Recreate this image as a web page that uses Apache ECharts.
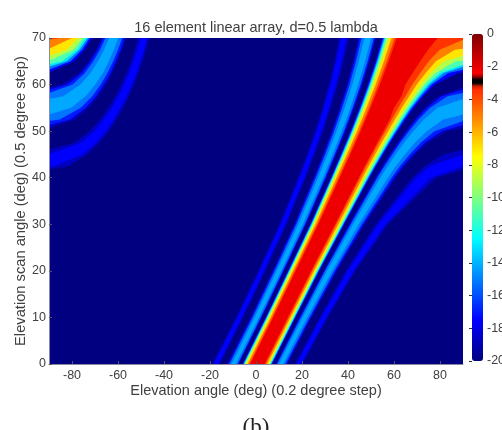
<!DOCTYPE html>
<html><head><meta charset="utf-8">
<style>html,body{margin:0;padding:0;background:#fff}#c{width:502px;height:430px;filter:blur(0.55px)}</style>
<script src="https://cdn.jsdelivr.net/npm/echarts@6/dist/echarts.min.js"></script>
</head><body><div id="c"></div>
<script>
// Contour edges: elevation angle (deg) of each of 21 contour lines at each scan row.
const scanRows = [0,10,20,30,40,42.5,45,47.5,50,52.5,55,57.5,60,62.5,65,67.5,70];
const beamDrift = [0.6,0.6,0.6,0.7,0.4,0.35,0.3,0.25,0.2,0.1,0,-0.1,-0.3,-0.4,-0.6,-0.8,-1];
const plus0  = [3.15,3.6,4.3,4.9,5.3,5.7,5.9,6.2,6.5,8,8.3,8.6,9.35,11.2,12.1,12.7,13.1,16.3,17,19,19.6];
const plus10 = [13.2,13.7,14.4,15,15.5,15.8,16.1,16.35,16.65,18.2,18.5,18.9,19.7,21.65,22.6,23.15,23.6,27.05,27.85,29.95,30.6];
const plus20 = [23.4,23.9,24.65,25.3,25.8,26.15,26.4,26.7,27.05,28.75,29.1,29.45,30.3,32.5,33.5,34.15,34.6,38.55,39.4,41.85,42.6];
const plus30 = [33.7,34.25,35.1,35.8,36.4,36.8,37.1,37.4,37.75,39.7,40.1,40.55,41.5,44,45.25,46,46.55,51.35,52.45,55.6,56.6];
const plus40 = [44.3,44.9,45.9,46.7,47.4,47.9,48.25,48.65,49.05,51.45,51.9,52.45,53.65,56.95,58.55,59.6,60.35,67.5,69.4,75.5,78];
const plus42 = [46.95,47.6,48.65,49.5,50.2,50.8,51.15,51.6,52,54.55,55.05,55.6,56.95,60.5,62.3,63.5,64.4,73.1,75.6,90,90];
const plus45 = [49.65,50.35,51.45,52.35,53.15,53.7,54.1,54.55,55.05,57.8,58.3,59,60.4,64.4,66.5,67.9,68.9,81.1,90,90,90];
const plus47 = [52.4,53.15,54.3,55.3,56.1,56.75,57.2,57.65,58.2,61.2,61.8,62.5,64.1,68.8,71.3,73.1,74.4,90,90,90,90];
const plus50 = [55.2,56,57.25,58.3,59.2,59.9,60.35,60.9,61.45,64.85,65.5,66.35,68.2,74,77.4,80.4,82.75,90,90,90,90];
const plus52 = [58,58.9,60.3,61.45,62.4,63.2,63.7,64.3,65,68.8,69.6,70.6,72.9,81.3,90,90,90,90,90,90,90];
const plus55 = [60,61.9,63.4,64.7,65.8,66.65,67.2,67.9,68.7,73.3,74.4,75.7,78.95,90,90,90,90,90,90,90,90];
const plus57 = [63.3,65,66.7,68.2,69.5,70.5,71.2,72,72.9,79.2,80.9,83.4,90,90,90,90,90,90,90,90,90];
const plus60 = [65.3,68.3,70.2,72,73.5,74.8,75.7,76.8,78.1,90,90,90,90,90,90,90,90,90,90,90,90];
const plus62 = [68.5,71.8,74.2,76.4,78.5,80.4,81.9,84,88.2,90,90,90,90,90,90,90,90,90,90,90,90];
const plus65 = [72,75.7,78.8,82.3,87.4,90,90,90,90,90,90,90,90,90,90,90,90,90,90,90,90];
const plus67 = [75.6,80.7,87.3,90,90,90,90,90,90,90,90,90,90,90,90,90,90,90,90,90,90];
const plus70 = [80,90,90,90,90,90,90,90,90,90,90,90,90,90,90,90,90,90,90,90,90];
const minusScans = [0,10,20,30,40,45,50,55,60,65,70];
const minus0  = [-3.15,-3.6,-4.3,-4.9,-5.3,-5.7,-5.9,-6.2,-6.5,-8,-8.3,-8.6,-9.35,-11.2,-12.1,-12.7,-13.1,-16.3,-17,-19,-19.6];
const minus10 = [6.85,6.4,5.7,5.1,4.65,4.3,4.05,3.8,3.5,2,1.7,1.4,0.65,-1.2,-2.05,-2.6,-3,-6.15,-6.85,-8.7,-9.25];
const minus20 = [16.7,16.2,15.5,14.9,14.4,14.05,13.85,13.55,13.25,11.7,11.4,11.05,10.35,8.45,7.6,7.05,6.65,3.5,2.8,1,0.4];
const minus30 = [26.4,25.9,25.15,24.5,24,23.65,23.4,23.1,22.8,21.15,20.85,20.5,19.7,17.75,16.85,16.3,15.9,12.65,11.95,10.1,9.5];
const minus40 = [36,35.45,34.6,33.9,33.35,32.95,32.7,32.4,32.05,30.25,29.95,29.55,28.7,26.6,25.65,25.05,24.65,21.2,20.5,18.55,17.95];
const minus45 = [40.7,40.1,39.2,38.45,37.9,37.45,37.15,36.85,36.5,34.6,34.25,33.85,33,30.8,29.8,29.15,28.75,25.2,24.45,22.45,21.85];
const minus50 = [45.3,44.65,43.7,42.9,42.3,41.85,41.55,41.2,40.8,38.85,38.45,38,37.1,34.8,33.8,33.1,32.7,29,28.25,26.15,25.55];
const minus55 = [49.8,49.1,48.05,47.2,46.55,46.05,45.75,45.35,44.95,42.85,42.45,42,41.05,38.6,37.5,36.85,36.35,32.55,31.75,29.6,28.95];
const minus60 = [54.2,53.4,52.3,51.35,50.6,50.1,49.75,49.35,48.9,46.65,46.2,45.75,44.7,42.15,41,40.25,39.8,35.8,34.95,32.75,32.05];
const minus65 = [58.3,57.45,56.2,55.2,54.4,53.8,53.4,53,52.5,50.1,49.65,49.1,48.05,45.3,44.1,43.35,42.85,38.7,37.8,35.5,34.8];
const minus70 = [62.25,61.3,59.9,58.75,57.9,57.25,56.85,56.35,55.85,53.2,52.75,52.2,51.05,48.15,46.9,46.1,45.55,41.2,40.3,37.95,37.2];
// Scan angle at which each contour line meets the plot's side edges.
const edgeHit = [71,69.6,67.7,66.2,65.1,64.3,63.8,63.2,62.6,59.4,58.9,58.2,56.9,53.6,52.2,51.3,50.7,46,45,42.45,41.7];
// The wrapped lobes at top left.
const n = null;
const left42 = [n,n,n,n,n,n,n,n,n,n,n,n,n,n,n,n,n,n,n,-88,-81.6];
const left45 = [n,n,n,n,n,n,n,n,n,n,n,n,n,n,n,n,n,n,n,-75.5,-73.3];
const left47 = [n,n,n,n,n,n,n,n,n,n,n,n,n,n,n,n,n,-79,-75.9,-69.7,-68.1];
const left50 = [n,n,n,n,n,n,n,n,n,n,n,n,n,n,n,n,n,-72.4,-70.2,-65.4,-64];
const left52 = [n,n,n,n,n,n,n,n,n,n,n,n,n,n,-85.3,-80.8,-78.7,-67.8,-66,-61.85,-60.65];
const left55 = [n,n,n,n,n,n,n,n,n,n,n,n,n,-80.4,-76.2,-74,-72.75,-64.15,-62.6,-58.9,-57.8];
const left57 = [n,n,n,n,n,n,n,n,n,n,n,n,-83.8,-74.1,-71.2,-69.6,-68.5,-61.1,-59.7,-56.3,-55.2];
const left60 = [n,n,n,n,n,n,n,n,n,-84.3,-81.9,-79.7,-76.3,-69.9,-67.5,-66.1,-65.2,-58.5,-57.25,-54,-53];
const left62 = [n,n,n,n,n,n,n,n,n,-76.9,-75.7,-74.4,-71.9,-66.6,-64.6,-63.3,-62.5,-56.3,-55.1,-52,-51.1];
const left65 = [n,n,n,n,n,-84.3,-82.3,-80.6,-79,-72.75,-71.8,-70.75,-68.7,-64,-62.1,-61,-60.25,-54.4,-53.2,-50.25,-49.4];
const left67 = [n,n,n,-82.3,-79.4,-77.7,-76.7,-75.6,-74.5,-69.6,-68.8,-67.8,-66,-61.8,-60,-58.9,-58.2,-52.7,-51.5,-48.7,-47.8];
const left70 = [n,-85.6,-80,-77.2,-75.2,-74,-73.1,-72.3,-71.3,-67,-66.3,-65.5,-63.85,-59.9,-58.2,-57.2,-56.5,-51.2,-50.1,-47.3,-46.5];
// [contour index, dB] of the nested main lobe, outermost first; [inner contour, outer contour, dB] of side lobes.
const mainLobe = [[8,-17.5],[7,-15.2],[6,-13],[5,-11],[4,-9],[3,-7],[2,-5],[1,-3.5],[0,-2.2]];
const sideLobes = [[9,16,-18.7],[10,15,-17],[11,14,-15.2],[12,13,-14.2],[17,20,-18.7],[18,19,-17.5]];
const xTicks = [-80,-60,-40,-20,0,20,40,60,80];
const floorDb = -20;

const plusRows = [plus0,plus10,plus20,plus30,plus40,plus42,plus45,plus47,plus50,plus52,plus55,plus57,plus60,plus62,plus65,plus67,plus70];
const minusRows = [minus0,minus10,minus20,minus30,minus40,minus45,minus50,minus55,minus60,minus65,minus70];
const leftRows = [[42.5,left42],[45,left45],[47.5,left47],[50,left50],[52.5,left52],[55,left55],[57.5,left57],[60,left60],[62.5,left62],[65,left65],[67.5,left67],[70,left70]];
const drift = s => beamDrift[scanRows.indexOf(s)];

const minusEdge = k => minusScans.map((s,r)=>[minusRows[r][k]+drift(s),s]);
const plusEdge = k => {           // ascending scan, ends on the right border or the top
  const pts = scanRows.map((s,r)=>[plusRows[r][k]+drift(s),s]).filter(p=>p[1]<edgeHit[k]);
  if (edgeHit[k] <= 70) pts.push([90,edgeHit[k]]);
  return pts;
};
const leftEdge = k => {           // ascending scan, starts on the left border
  const pts = [[-90,edgeHit[k]]];
  leftRows.forEach(([s,row])=>{ if (row[k]!==null) pts.push([row[k],s]); });
  return pts;
};
const shapes = [], levels = [];
const add = (pts,db)=>{ shapes.push(pts); levels.push(db); };
add([[-90,0],[90,0],[90,70],[-90,70]], floorDb);
sideLobes.forEach(([a,b,db])=>{
  add(plusEdge(a).concat(plusEdge(b).reverse()), db);
  add(minusEdge(b).concat(minusEdge(a).reverse()), db);
  add(leftEdge(b).concat(leftEdge(a).reverse()), db);
});
mainLobe.forEach(([k,db])=>{
  const p = plusEdge(k).slice().reverse();
  const top = edgeHit[k] <= 70 ? [[90,70]] : [];
  add(minusEdge(k).concat(top,p), db);
  if (k>0) add(leftEdge(k).concat([[-90,70]]), db);
});

// jet palette with the black mark at -3 dB on the colour bar
const clip01 = v=>Math.max(0,Math.min(1,v));
const jet = db=>{
  const p=(db+20)/20;
  const c=o=>Math.round(255*clip01(1.5-Math.abs(4*p-o)));
  return 'rgb('+c(3)+','+c(2)+','+c(1)+')';
};
const palette=[];
for(let i=0;i<=80;i++){ const db=-20+i*0.25; palette.push(db===-3||db===-2.75?'#000':jet(db)); }

const text='#404040';
const chart=echarts.init(document.getElementById('c'),null,{renderer:'canvas'});
chart.setOption({
  animation:false,
  backgroundColor:'#fff',
  textStyle:{fontFamily:'"Liberation Sans",Arial,sans-serif'},
  title:[
    {text:'16 element linear array, d=0.5 lambda',left:251,top:15,textAlign:'center',
     textStyle:{fontSize:14.5,fontWeight:'normal',color:text,fontFamily:'"Liberation Sans"'}},
    {text:'(b)',left:251,top:411,textAlign:'center',
     textStyle:{fontSize:23,fontWeight:'normal',color:'#222',fontFamily:'"Liberation Serif"'}}
  ],
  grid:[
    {left:49,top:38,width:414,height:326,outerBoundsMode:'none'},
    {left:472,top:34,width:11,height:327,outerBoundsMode:'none'}
  ],
  xAxis:[
    {type:'value',min:-90,max:90,gridIndex:0,name:'Elevation angle (deg) (0.2 degree step)',nameLocation:'middle',nameGap:19,nameMoveOverlap:false,
     nameTextStyle:{fontSize:14.5,color:text},
     splitLine:{show:false},
     axisLine:{lineStyle:{color:'#8a8aa8',width:1},onZero:false},
     axisTick:{inside:true,length:3,customValues:xTicks,lineStyle:{color:'#555'}},
     axisLabel:{customValues:xTicks,fontSize:12.5,color:text,margin:5},z:5},
    {type:'value',min:0,max:1,gridIndex:1,show:false}
  ],
  yAxis:[
    {type:'value',min:0,max:70,interval:10,gridIndex:0,name:'Elevation scan angle (deg) (0.5 degree step)',nameLocation:'middle',nameGap:21,nameMoveOverlap:false,
     nameTextStyle:{fontSize:14.7,color:text},
     splitLine:{show:false},
     axisLine:{lineStyle:{color:'#8a8aa8',width:1},onZero:false},
     axisTick:{inside:true,length:3,lineStyle:{color:'#555'}},
     axisLabel:{fontSize:12.5,color:text,margin:3},z:5},
    {type:'value',min:-20,max:0,interval:2,gridIndex:1,position:'right',splitLine:{show:false},
     axisLine:{show:false},
     axisTick:{inside:true,length:3,lineStyle:{color:'#333'}},
     axisLabel:{fontSize:12.5,color:text,margin:4},z:6}
  ],
  visualMap:{type:'continuous',min:-20,max:0,dimension:1,seriesIndex:0,calculable:false,hoverLink:false,
    left:472,top:34,itemWidth:11,itemHeight:327,text:null,padding:0,inRange:{color:palette}},
  series:[{
    type:'custom',coordinateSystem:'cartesian2d',xAxisIndex:0,yAxisIndex:0,clip:true,silent:true,
    dimensions:['contour','level'],
    data:levels.map((db,i)=>[i,db]),
    encode:{x:0,y:1},
    renderItem:(params,api)=>({
      type:'polygon',
      shape:{points:shapes[api.value(0)].map(p=>api.coord(p))},
      style:{fill:api.visual('color'),stroke:null}
    })
  }]
});
</script></body></html>
